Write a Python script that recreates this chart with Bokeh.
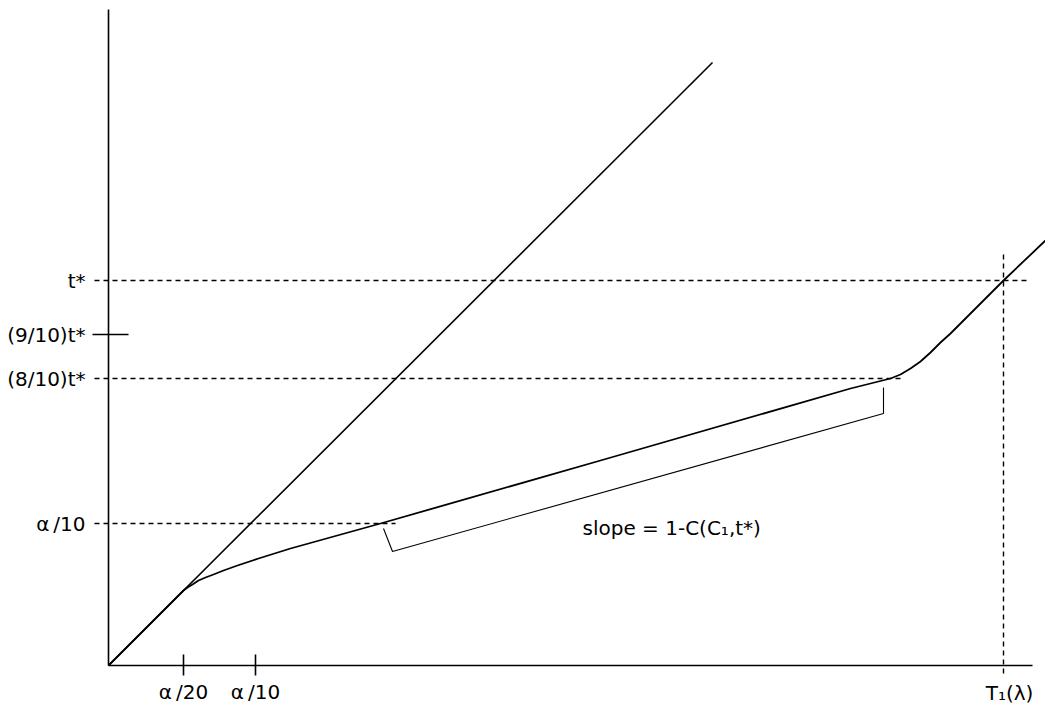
from bokeh.plotting import figure
from bokeh.models import Range1d
from bokeh.core.properties import value
from bokeh.embed import file_html
from bokeh.resources import INLINE

# ---- data (units; origin at the axes corner) ----
diag_x = [0, 604]
diag_y = [0, 603]

curve_x = [0, 75, 79, 84, 90, 97, 105, 115, 129, 150, 182, 272, 492, 742, 762, 782,
           792, 802, 812, 822, 832, 842, 852, 862, 872, 895, 937]
curve_y = [0, 75, 78, 81, 85, 88, 91, 95, 100, 107, 117, 142, 205, 277, 282, 287,
           291, 297, 304, 313, 323, 332, 342, 352, 362, 385, 425]

x_tick_labels = ["α\u2009/20", "α\u2009/10"]
x_tick_values = [75, 147]
t1_label = "T₁(λ)"
t1_value = 895

y_dashed_labels = ["t*", "(8/10)t*", "α\u2009/10"]
y_dashed_values = [385, 287, 142]
y_dashed_ends = [920, 794, 287]
y_tick_label = "(9/10)t*"
y_tick_value = 331

bracket_x = [275, 284, 775, 775]
bracket_y = [137, 114, 252, 278]
slope_label = "slope = 1-C(C₁,t*)"
slope_pos = (474, 138)

axis_x_end = 924
axis_y_end = 656

FONT = value("DejaVu Sans")
FS = "20px"

p = figure(width=1045, height=708, output_backend="svg", toolbar_location=None,
           x_range=Range1d(-108, 937), y_range=Range1d(-43, 665),
           x_axis_type=None, y_axis_type=None, min_border=0,
           outline_line_color=None, background_fill_color="white",
           border_fill_color="white")
p.grid.visible = False

# axes
p.line([0, axis_x_end], [0, 0], line_color="black", line_width=1.6)
p.line([0, 0], [0, axis_y_end], line_color="black", line_width=1.6)

# dashed reference lines
for yv, xe in zip(y_dashed_values, y_dashed_ends):
    p.line([-14, xe], [yv, yv], line_color="black", line_width=1.4, line_dash="5 4")
p.line([t1_value, t1_value], [-8, 413], line_color="black", line_width=1.4, line_dash="5 4")

# tick marks
for xv in x_tick_values:
    p.line([xv, xv], [-10, 11], line_color="black", line_width=1.6)
p.line([-16, 20], [y_tick_value, y_tick_value], line_color="black", line_width=1.6)

# diagonal and curve
p.line(diag_x, diag_y, line_color="black", line_width=1.6)
p.line(curve_x, curve_y, line_color="black", line_width=1.8, line_join="round")

# bracket
p.line(bracket_x, bracket_y, line_color="black", line_width=1.1)

# labels
p.text(x=[-23] * 3, y=y_dashed_values, text=y_dashed_labels, text_font=FONT,
       text_font_size=FS, text_align="right", text_baseline="middle", text_color="black")
p.text(x=[-23], y=[y_tick_value], text=[y_tick_label], text_font=FONT,
       text_font_size=FS, text_align="right", text_baseline="middle", text_color="black")
p.text(x=x_tick_values, y=[-26] * 2, text=x_tick_labels, text_font=FONT,
       text_font_size=FS, text_align="center", text_baseline="middle", text_color="black")
p.text(x=[t1_value + 6], y=[-27], text=[t1_label], text_font=FONT,
       text_font_size=FS, text_align="center", text_baseline="middle", text_color="black")
p.text(x=[slope_pos[0]], y=[slope_pos[1]], text=[slope_label], text_font=FONT,
       text_font_size=FS, text_align="left", text_baseline="middle", text_color="black")

open("out.html", "w").write(file_html(p, INLINE))
